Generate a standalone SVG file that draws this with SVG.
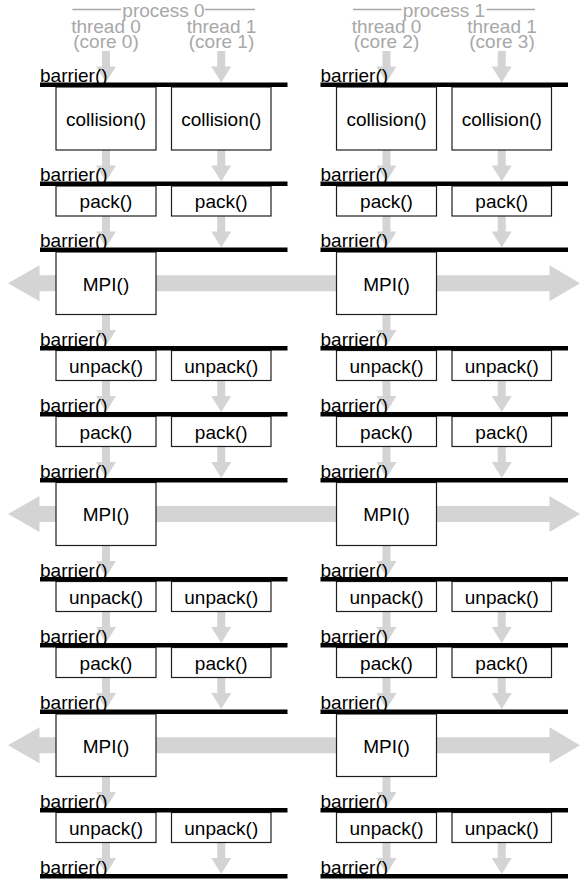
<svg xmlns="http://www.w3.org/2000/svg" xmlns:xlink="http://www.w3.org/1999/xlink" width="582" height="879" viewBox="0 0 582 879">
<style>
.bg{fill:#fff}
.bar{fill:#000}
.box{fill:#fff;stroke:#1e1e1e;stroke-width:1.2}
.t{font-family:"Liberation Sans",Arial,Helvetica,sans-serif;font-size:19px;fill:#000}
.c{text-anchor:middle}
.h{fill:#a8a8a8}
.hl{stroke:#a8a8a8;stroke-width:1.5}
.arr{fill:#d4d4d4}
</style>
<defs>
<path id="ar" class="arr" d="M-4 0H4V15.5H10L0 31.5L-10 15.5H-4Z"/>
<path id="band" class="arr" d="M8 0L39.5 -18V-8H549.5V-18L580 0L549.5 18V8H39.5V18Z"/>
</defs>
<rect class="bg" x="0" y="0" width="582" height="879"/>

<g id="connectors">
  <use href="#ar" x="106" y="51"/><use href="#ar" x="221.25" y="51"/><use href="#ar" x="386.5" y="51"/><use href="#ar" x="501.75" y="51"/>
  <use href="#ar" x="106" y="150"/><use href="#ar" x="221.25" y="150"/><use href="#ar" x="386.5" y="150"/><use href="#ar" x="501.75" y="150"/>
  <use href="#ar" x="106" y="216"/><use href="#ar" x="221.25" y="216"/><use href="#ar" x="386.5" y="216"/><use href="#ar" x="501.75" y="216"/>
  <use href="#ar" x="106" y="314.5"/><use href="#ar" x="386.5" y="314.5"/>
  <use href="#ar" x="106" y="380.5"/><use href="#ar" x="221.25" y="380.5"/><use href="#ar" x="386.5" y="380.5"/><use href="#ar" x="501.75" y="380.5"/>
  <use href="#ar" x="106" y="446.5"/><use href="#ar" x="221.25" y="446.5"/><use href="#ar" x="386.5" y="446.5"/><use href="#ar" x="501.75" y="446.5"/>
  <use href="#ar" x="106" y="545.5"/><use href="#ar" x="386.5" y="545.5"/>
  <use href="#ar" x="106" y="611.5"/><use href="#ar" x="221.25" y="611.5"/><use href="#ar" x="386.5" y="611.5"/><use href="#ar" x="501.75" y="611.5"/>
  <use href="#ar" x="106" y="677.5"/><use href="#ar" x="221.25" y="677.5"/><use href="#ar" x="386.5" y="677.5"/><use href="#ar" x="501.75" y="677.5"/>
  <use href="#ar" x="106" y="776.5"/><use href="#ar" x="386.5" y="776.5"/>
  <use href="#ar" x="106" y="842.5"/><use href="#ar" x="221.25" y="842.5"/><use href="#ar" x="386.5" y="842.5"/><use href="#ar" x="501.75" y="842.5"/>
  <use href="#band" x="0" y="283.25"/>
  <use href="#band" x="0" y="514"/>
  <use href="#band" x="0" y="745.25"/>
</g>

<g id="header-p0">
  <line class="hl" x1="72.5" y1="9.5" x2="121" y2="9.5"/>
  <line class="hl" x1="205" y1="9.5" x2="255" y2="9.5"/>
  <text class="t c h" x="163.5" y="17">process 0</text>
</g>
<g id="header-p1">
  <line class="hl" x1="353" y1="9.5" x2="401.5" y2="9.5"/>
  <line class="hl" x1="486.5" y1="9.5" x2="535" y2="9.5"/>
  <text class="t c h" x="444" y="17">process 1</text>
</g>
<g id="thread-p0-t0"><text class="t c h" x="106" y="33">thread 0</text><text class="t c h" x="106" y="48">(core 0)</text></g>
<g id="thread-p0-t1"><text class="t c h" x="221.5" y="33">thread 1</text><text class="t c h" x="221.5" y="48">(core 1)</text></g>
<g id="thread-p1-t0"><text class="t c h" x="386.5" y="33">thread 0</text><text class="t c h" x="386.5" y="48">(core 2)</text></g>
<g id="thread-p1-t1"><text class="t c h" x="502" y="33">thread 1</text><text class="t c h" x="502" y="48">(core 3)</text></g>

<!-- row 0: collision -->
<g id="collision-p0-t0"><rect class="box" x="56" y="87" width="100" height="63"/><text class="t c" x="106" y="125.5">collision()</text></g>
<g id="collision-p0-t1"><rect class="box" x="171.5" y="87" width="99.5" height="63"/><text class="t c" x="221.25" y="125.5">collision()</text></g>
<g id="collision-p1-t0"><rect class="box" x="336.5" y="87" width="100" height="63"/><text class="t c" x="386.5" y="125.5">collision()</text></g>
<g id="collision-p1-t1"><rect class="box" x="452" y="87" width="99.5" height="63"/><text class="t c" x="501.75" y="125.5">collision()</text></g>
<!-- row 1: pack -->
<g id="pack1-p0-t0"><rect class="box" x="56" y="186" width="100" height="30"/><text class="t c" x="106" y="208">pack()</text></g>
<g id="pack1-p0-t1"><rect class="box" x="171.5" y="186" width="99.5" height="30"/><text class="t c" x="221.25" y="208">pack()</text></g>
<g id="pack1-p1-t0"><rect class="box" x="336.5" y="186" width="100" height="30"/><text class="t c" x="386.5" y="208">pack()</text></g>
<g id="pack1-p1-t1"><rect class="box" x="452" y="186" width="99.5" height="30"/><text class="t c" x="501.75" y="208">pack()</text></g>
<!-- row 2: MPI -->
<g id="mpi1-p0"><rect class="box" x="56" y="252" width="100" height="62.5"/><text class="t c" x="106" y="290.5">MPI()</text></g>
<g id="mpi1-p1"><rect class="box" x="336.5" y="252" width="100" height="62.5"/><text class="t c" x="386.5" y="290.5">MPI()</text></g>
<!-- row 3: unpack -->
<g id="unpack1-p0-t0"><rect class="box" x="56" y="350.5" width="100" height="30"/><text class="t c" x="106" y="372.5">unpack()</text></g>
<g id="unpack1-p0-t1"><rect class="box" x="171.5" y="350.5" width="99.5" height="30"/><text class="t c" x="221.25" y="372.5">unpack()</text></g>
<g id="unpack1-p1-t0"><rect class="box" x="336.5" y="350.5" width="100" height="30"/><text class="t c" x="386.5" y="372.5">unpack()</text></g>
<g id="unpack1-p1-t1"><rect class="box" x="452" y="350.5" width="99.5" height="30"/><text class="t c" x="501.75" y="372.5">unpack()</text></g>
<!-- row 4: pack -->
<g id="pack2-p0-t0"><rect class="box" x="56" y="416.5" width="100" height="30"/><text class="t c" x="106" y="438.5">pack()</text></g>
<g id="pack2-p0-t1"><rect class="box" x="171.5" y="416.5" width="99.5" height="30"/><text class="t c" x="221.25" y="438.5">pack()</text></g>
<g id="pack2-p1-t0"><rect class="box" x="336.5" y="416.5" width="100" height="30"/><text class="t c" x="386.5" y="438.5">pack()</text></g>
<g id="pack2-p1-t1"><rect class="box" x="452" y="416.5" width="99.5" height="30"/><text class="t c" x="501.75" y="438.5">pack()</text></g>
<!-- row 5: MPI -->
<g id="mpi2-p0"><rect class="box" x="56" y="482.5" width="100" height="63"/><text class="t c" x="106" y="521">MPI()</text></g>
<g id="mpi2-p1"><rect class="box" x="336.5" y="482.5" width="100" height="63"/><text class="t c" x="386.5" y="521">MPI()</text></g>
<!-- row 6: unpack -->
<g id="unpack2-p0-t0"><rect class="box" x="56" y="581.5" width="100" height="30"/><text class="t c" x="106" y="603.5">unpack()</text></g>
<g id="unpack2-p0-t1"><rect class="box" x="171.5" y="581.5" width="99.5" height="30"/><text class="t c" x="221.25" y="603.5">unpack()</text></g>
<g id="unpack2-p1-t0"><rect class="box" x="336.5" y="581.5" width="100" height="30"/><text class="t c" x="386.5" y="603.5">unpack()</text></g>
<g id="unpack2-p1-t1"><rect class="box" x="452" y="581.5" width="99.5" height="30"/><text class="t c" x="501.75" y="603.5">unpack()</text></g>
<!-- row 7: pack -->
<g id="pack3-p0-t0"><rect class="box" x="56" y="647.5" width="100" height="30"/><text class="t c" x="106" y="669.5">pack()</text></g>
<g id="pack3-p0-t1"><rect class="box" x="171.5" y="647.5" width="99.5" height="30"/><text class="t c" x="221.25" y="669.5">pack()</text></g>
<g id="pack3-p1-t0"><rect class="box" x="336.5" y="647.5" width="100" height="30"/><text class="t c" x="386.5" y="669.5">pack()</text></g>
<g id="pack3-p1-t1"><rect class="box" x="452" y="647.5" width="99.5" height="30"/><text class="t c" x="501.75" y="669.5">pack()</text></g>
<!-- row 8: MPI -->
<g id="mpi3-p0"><rect class="box" x="56" y="714" width="100" height="62.5"/><text class="t c" x="106" y="752.5">MPI()</text></g>
<g id="mpi3-p1"><rect class="box" x="336.5" y="714" width="100" height="62.5"/><text class="t c" x="386.5" y="752.5">MPI()</text></g>
<!-- row 9: unpack -->
<g id="unpack3-p0-t0"><rect class="box" x="56" y="812.5" width="100" height="30"/><text class="t c" x="106" y="834.5">unpack()</text></g>
<g id="unpack3-p0-t1"><rect class="box" x="171.5" y="812.5" width="99.5" height="30"/><text class="t c" x="221.25" y="834.5">unpack()</text></g>
<g id="unpack3-p1-t0"><rect class="box" x="336.5" y="812.5" width="100" height="30"/><text class="t c" x="386.5" y="834.5">unpack()</text></g>
<g id="unpack3-p1-t1"><rect class="box" x="452" y="812.5" width="99.5" height="30"/><text class="t c" x="501.75" y="834.5">unpack()</text></g>

<!-- barriers -->
<g id="barrier1-p0"><rect class="bar" x="40" y="82.5" width="247.5" height="4.5"/><text class="t" x="40" y="82">barrier()</text></g>
<g id="barrier1-p1"><rect class="bar" x="320.5" y="82.5" width="247.5" height="4.5"/><text class="t" x="320.5" y="82">barrier()</text></g>
<g id="barrier2-p0"><rect class="bar" x="40" y="181.5" width="247.5" height="4.5"/><text class="t" x="40" y="181">barrier()</text></g>
<g id="barrier2-p1"><rect class="bar" x="320.5" y="181.5" width="247.5" height="4.5"/><text class="t" x="320.5" y="181">barrier()</text></g>
<g id="barrier3-p0"><rect class="bar" x="40" y="247.5" width="247.5" height="4.5"/><text class="t" x="40" y="247">barrier()</text></g>
<g id="barrier3-p1"><rect class="bar" x="320.5" y="247.5" width="247.5" height="4.5"/><text class="t" x="320.5" y="247">barrier()</text></g>
<g id="barrier4-p0"><rect class="bar" x="40" y="346" width="247.5" height="4.5"/><text class="t" x="40" y="345.5">barrier()</text></g>
<g id="barrier4-p1"><rect class="bar" x="320.5" y="346" width="247.5" height="4.5"/><text class="t" x="320.5" y="345.5">barrier()</text></g>
<g id="barrier5-p0"><rect class="bar" x="40" y="412" width="247.5" height="4.5"/><text class="t" x="40" y="411.5">barrier()</text></g>
<g id="barrier5-p1"><rect class="bar" x="320.5" y="412" width="247.5" height="4.5"/><text class="t" x="320.5" y="411.5">barrier()</text></g>
<g id="barrier6-p0"><rect class="bar" x="40" y="478" width="247.5" height="4.5"/><text class="t" x="40" y="477.5">barrier()</text></g>
<g id="barrier6-p1"><rect class="bar" x="320.5" y="478" width="247.5" height="4.5"/><text class="t" x="320.5" y="477.5">barrier()</text></g>
<g id="barrier7-p0"><rect class="bar" x="40" y="577" width="247.5" height="4.5"/><text class="t" x="40" y="576.5">barrier()</text></g>
<g id="barrier7-p1"><rect class="bar" x="320.5" y="577" width="247.5" height="4.5"/><text class="t" x="320.5" y="576.5">barrier()</text></g>
<g id="barrier8-p0"><rect class="bar" x="40" y="643" width="247.5" height="4.5"/><text class="t" x="40" y="642.5">barrier()</text></g>
<g id="barrier8-p1"><rect class="bar" x="320.5" y="643" width="247.5" height="4.5"/><text class="t" x="320.5" y="642.5">barrier()</text></g>
<g id="barrier9-p0"><rect class="bar" x="40" y="709.5" width="247.5" height="4.5"/><text class="t" x="40" y="709">barrier()</text></g>
<g id="barrier9-p1"><rect class="bar" x="320.5" y="709.5" width="247.5" height="4.5"/><text class="t" x="320.5" y="709">barrier()</text></g>
<g id="barrier10-p0"><rect class="bar" x="40" y="808" width="247.5" height="4.5"/><text class="t" x="40" y="807.5">barrier()</text></g>
<g id="barrier10-p1"><rect class="bar" x="320.5" y="808" width="247.5" height="4.5"/><text class="t" x="320.5" y="807.5">barrier()</text></g>
<g id="barrier11-p0"><rect class="bar" x="40" y="874" width="247.5" height="4.5"/><text class="t" x="40" y="873.5">barrier()</text></g>
<g id="barrier11-p1"><rect class="bar" x="320.5" y="874" width="247.5" height="4.5"/><text class="t" x="320.5" y="873.5">barrier()</text></g>
</svg>
